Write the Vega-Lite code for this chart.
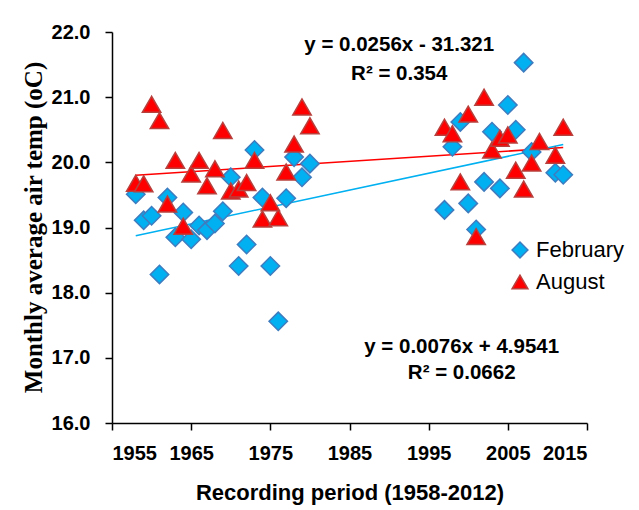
{
  "$schema": "https://vega.github.io/schema/vega-lite/v6.json",
  "width": 475,
  "height": 391,
  "autosize": {"type": "none"},
  "padding": {"left": 112, "top": 32, "right": 52, "bottom": 87},
  "background": "white",
  "config": {
    "view": {"stroke": null},
    "axis": {
      "domainColor": "black",
      "domainWidth": 1.5,
      "tickColor": "black",
      "tickWidth": 1.5,
      "tickSize": 7,
      "grid": false,
      "labelFont": "Liberation Sans",
      "labelFontWeight": "bold",
      "labelFontSize": 20,
      "labelColor": "black",
      "titleColor": "black"
    }
  },
  "datasets": {
    "obs": [
      {"year": 1958, "temp": 19.51, "month": "February"},
      {"year": 1959, "temp": 19.11, "month": "February"},
      {"year": 1960, "temp": 19.18, "month": "February"},
      {"year": 1961, "temp": 18.28, "month": "February"},
      {"year": 1962, "temp": 19.46, "month": "February"},
      {"year": 1963, "temp": 18.85, "month": "February"},
      {"year": 1964, "temp": 19.23, "month": "February"},
      {"year": 1965, "temp": 18.82, "month": "February"},
      {"year": 1966, "temp": 19.03, "month": "February"},
      {"year": 1967, "temp": 18.96, "month": "February"},
      {"year": 1968, "temp": 19.06, "month": "February"},
      {"year": 1969, "temp": 19.25, "month": "February"},
      {"year": 1970, "temp": 19.77, "month": "February"},
      {"year": 1971, "temp": 18.41, "month": "February"},
      {"year": 1972, "temp": 18.74, "month": "February"},
      {"year": 1973, "temp": 20.19, "month": "February"},
      {"year": 1974, "temp": 19.46, "month": "February"},
      {"year": 1975, "temp": 18.41, "month": "February"},
      {"year": 1976, "temp": 17.56, "month": "February"},
      {"year": 1977, "temp": 19.45, "month": "February"},
      {"year": 1978, "temp": 20.08, "month": "February"},
      {"year": 1979, "temp": 19.77, "month": "February"},
      {"year": 1980, "temp": 19.98, "month": "February"},
      {"year": 1997, "temp": 19.27, "month": "February"},
      {"year": 1998, "temp": 20.24, "month": "February"},
      {"year": 1999, "temp": 20.62, "month": "February"},
      {"year": 2000, "temp": 19.37, "month": "February"},
      {"year": 2001, "temp": 18.97, "month": "February"},
      {"year": 2002, "temp": 19.70, "month": "February"},
      {"year": 2003, "temp": 20.47, "month": "February"},
      {"year": 2004, "temp": 19.60, "month": "February"},
      {"year": 2005, "temp": 20.88, "month": "February"},
      {"year": 2006, "temp": 20.50, "month": "February"},
      {"year": 2007, "temp": 21.53, "month": "February"},
      {"year": 2008, "temp": 20.16, "month": "February"},
      {"year": 2011, "temp": 19.84, "month": "February"},
      {"year": 2012, "temp": 19.81, "month": "February"},
      {"year": 1958, "temp": 19.68, "month": "August"},
      {"year": 1959, "temp": 19.67, "month": "August"},
      {"year": 1960, "temp": 20.89, "month": "August"},
      {"year": 1961, "temp": 20.64, "month": "August"},
      {"year": 1962, "temp": 19.36, "month": "August"},
      {"year": 1963, "temp": 20.03, "month": "August"},
      {"year": 1964, "temp": 19.02, "month": "August"},
      {"year": 1965, "temp": 19.82, "month": "August"},
      {"year": 1966, "temp": 20.03, "month": "August"},
      {"year": 1967, "temp": 19.64, "month": "August"},
      {"year": 1968, "temp": 19.90, "month": "August"},
      {"year": 1969, "temp": 20.49, "month": "August"},
      {"year": 1970, "temp": 19.56, "month": "August"},
      {"year": 1971, "temp": 19.59, "month": "August"},
      {"year": 1972, "temp": 19.69, "month": "August"},
      {"year": 1973, "temp": 20.03, "month": "August"},
      {"year": 1974, "temp": 19.13, "month": "August"},
      {"year": 1975, "temp": 19.38, "month": "August"},
      {"year": 1976, "temp": 19.15, "month": "August"},
      {"year": 1977, "temp": 19.85, "month": "August"},
      {"year": 1978, "temp": 20.28, "month": "August"},
      {"year": 1979, "temp": 20.85, "month": "August"},
      {"year": 1980, "temp": 20.56, "month": "August"},
      {"year": 1997, "temp": 20.54, "month": "August"},
      {"year": 1998, "temp": 20.44, "month": "August"},
      {"year": 1999, "temp": 19.70, "month": "August"},
      {"year": 2000, "temp": 20.74, "month": "August"},
      {"year": 2001, "temp": 18.86, "month": "August"},
      {"year": 2002, "temp": 21.00, "month": "August"},
      {"year": 2003, "temp": 20.19, "month": "August"},
      {"year": 2004, "temp": 20.37, "month": "August"},
      {"year": 2005, "temp": 20.42, "month": "August"},
      {"year": 2006, "temp": 19.88, "month": "August"},
      {"year": 2007, "temp": 19.59, "month": "August"},
      {"year": 2008, "temp": 19.99, "month": "August"},
      {"year": 2009, "temp": 20.32, "month": "August"},
      {"year": 2011, "temp": 20.11, "month": "August"},
      {"year": 2012, "temp": 20.54, "month": "August"}
    ],
    "notes": [
      {"tx": 1991.28, "ty": 21.80, "label": "y = 0.0256x - 31.321"},
      {"tx": 1991.28, "ty": 21.35, "label": "R² = 0.354"},
      {"tx": 1999.17, "ty": 17.17, "label": "y = 0.0076x + 4.9541"},
      {"tx": 1999.17, "ty": 16.77, "label": "R² = 0.0662"}
    ]
  },
  "layer": [
    {
      "data": {"name": "obs"},
      "transform": [
        {"filter": "datum.month === 'August'"},
        {"regression": "temp", "on": "year", "extent": [1958, 2012]}
      ],
      "mark": {"type": "line", "strokeWidth": 1.5, "color": "#FF0000"},
      "encoding": {
        "x": {"field": "year", "type": "quantitative"},
        "y": {"field": "temp", "type": "quantitative"}
      }
    },
    {
      "data": {"name": "obs"},
      "transform": [
        {"filter": "datum.month === 'February'"},
        {"regression": "temp", "on": "year", "extent": [1958, 2012]}
      ],
      "mark": {"type": "line", "strokeWidth": 1.5, "color": "#00B0F0"},
      "encoding": {
        "x": {"field": "year", "type": "quantitative"},
        "y": {"field": "temp", "type": "quantitative"}
      }
    },
    {
      "data": {"name": "obs"},
      "mark": {"type": "point", "filled": true, "opacity": 1, "size": 340, "strokeWidth": 1.5},
      "encoding": {
        "x": {
          "field": "year", "type": "quantitative",
          "scale": {"domain": [1955, 2015], "nice": false, "zero": false},
          "axis": {
            "values": [1955, 1965, 1975, 1985, 1995, 2005, 2015],
            "format": "d",
            "labelPadding": 13,
            "title": "Recording period (1958-2012)",
            "titleFont": "Liberation Sans",
            "titleFontWeight": "bold",
            "titleFontSize": 22,
            "titleBaseline": "middle",
            "titleY": 69
          }
        },
        "y": {
          "field": "temp", "type": "quantitative",
          "scale": {"domain": [16, 22], "nice": false, "zero": false},
          "axis": {
            "values": [16, 17, 18, 19, 20, 21, 22],
            "format": ".1f",
            "labelPadding": 15,
            "title": "Monthly average air temp (oC)",
            "titleFont": "Liberation Serif",
            "titleFontWeight": "bold",
            "titleFontSize": 25,
            "titleX": -66,
            "titleY": 195
          }
        },
        "fill": {
          "field": "month", "type": "nominal",
          "scale": {"domain": ["February", "August"], "range": ["#00B0F0", "#FF0000"]},
          "legend": {
            "title": null,
            "orient": "none",
            "legendX": 397,
            "legendY": 207,
            "padding": 0,
            "labelFont": "Liberation Sans",
            "labelFontSize": 22,
            "labelColor": "black",
            "symbolSize": 250,
            "symbolStrokeWidth": 1.5,
            "rowPadding": 10,
            "labelOffset": 5
          }
        },
        "stroke": {
          "field": "month", "type": "nominal",
          "scale": {"domain": ["February", "August"], "range": ["#3E7CBF", "#B8403D"]}
        },
        "shape": {
          "field": "month", "type": "nominal",
          "scale": {"domain": ["February", "August"], "range": ["diamond", "triangle-up"]}
        }
      }
    },
    {
      "data": {"name": "notes"},
      "mark": {"type": "text", "font": "Liberation Sans", "fontWeight": "bold", "fontSize": 20.5, "align": "center", "baseline": "middle", "color": "black"},
      "encoding": {
        "x": {"field": "tx", "type": "quantitative"},
        "y": {"field": "ty", "type": "quantitative"},
        "text": {"field": "label"}
      }
    }
  ]
}
